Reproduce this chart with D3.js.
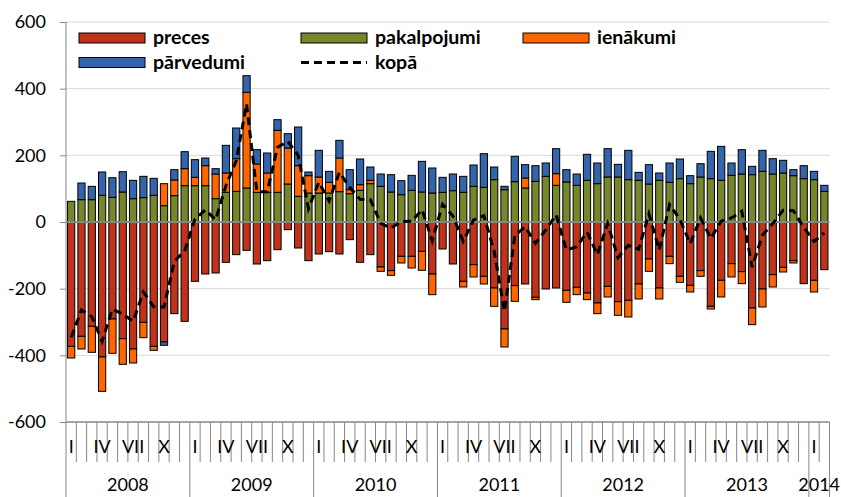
<!DOCTYPE html>
<html>
<head>
<meta charset="utf-8">
<script src="https://cdn.jsdelivr.net/npm/d3@7"></script>
<style>
  body { margin: 0; background: #fff; }
  svg { display: block; font-family: Lato, "Open Sans", sans-serif; }
</style>
</head>
<body>
<script>
// maksājumu bilances tekošais konts pa mēnešiem (2008 I - 2014 II)
const years = [2008, 2009, 2010, 2011, 2012, 2013, 2014]
const monthNames = ['I', 'II', 'III', 'IV', 'V', 'VI', 'VII', 'VIII', 'IX', 'X', 'XI', 'XII']
const shownMonths = ['I', 'IV', 'VII', 'X']
const yTicks = [-600, -400, -200, 0, 200, 400, 600]

const preces = [
  -373, -343, -313, -405, -291, -350, -381, -301, -373, -360, -275, -298,
  -178, -156, -153, -121, -98, -85, -126, -116, -83, -23, -78, -116,
  -96, -89, -96, -53, -121, -98, -135, -146, -103, -103, -88, -156,
  -81, -126, -178, -128, -163, -198, -321, -191, -186, -226, -201, -198,
  -205, -196, -213, -243, -193, -239, -235, -186, -111, -198, -103, -163,
  -190, -146, -253, -175, -125, -149, -258, -201, -158, -136, -116, -185,
  -175, -143
]
const pakalpojumi = [
  62, 67, 67, 80, 74, 90, 70, 73, 80, 49, 79, 109,
  109, 109, 70, 89, 92, 102, 89, 89, 89, 114, 77, 87,
  87, 87, 91, 85, 95, 115, 107, 90, 82, 95, 90, 87,
  89, 94, 89, 107, 104, 127, 97, 121, 102, 122, 137, 110,
  120, 110, 125, 115, 135, 135, 127, 125, 114, 125, 119, 130,
  115, 135, 130, 125, 140, 144, 142, 152, 144, 147, 139, 130,
  127, 92
]
const ienakumi = [
  -35, -38, -78, -103, -103, -77, -42, -46, -12, 66, 47, 51,
  25, 60, 74, 58, 98, 287, 85, 58, 186, 108, 92, 52,
  48, 32, 101, 12, 17, 10, -13, -14, -20, -35, -57, -62,
  0, 0, -17, -37, -23, -55, -54, -47, 30, -7, 0, 35,
  -36, -22, -20, -32, -32, -41, -50, -45, -37, -33, -22, -18,
  -20, -17, -8, -50, -40, -36, -50, -54, -37, -14, -7, 0,
  -35, 0
]
const parvedumi = [
  0, 50, 40, 70, 59, 61, 55, 64, 51, -10, 31, 51,
  53, 23, 16, 83, 92, 50, 43, 60, 32, 43, 116, 11,
  80, 33, 53, 60, 77, 40, 37, 52, 42, 45, 92, 75,
  45, 50, 48, 64, 101, 38, 10, 76, 40, 47, 40, 75,
  37, 34, 78, 62, 85, 38, 88, 24, 58, 22, 58, 59,
  24, 40, 82, 102, 37, 73, 25, 63, 46, 38, 18, 39,
  25, 18
]
const kopa = [
  -346, -264, -284, -358, -261, -276, -298, -210, -254, -255, -118, -87,
  9, 36, 7, 109, 184, 354, 91, 91, 224, 242, 200, 40,
  119, 63, 149, 104, 68, 67, -4, -18, 1, 2, 37, -56,
  53, 18, -58, 6, 19, -88, -268, -41, -14, -64, -24, 22,
  -84, -74, -30, -98, -5, -107, -70, -82, 24, -84, 52, 8,
  -65, 12, -49, 2, 12, 32, -135, -40, -5, 35, 34, -16,
  -58, -33
]

const keys = ['preces', 'pakalpojumi', 'ienakumi', 'parvedumi']
const labels = { preces: 'preces', pakalpojumi: 'pakalpojumi', ienakumi: 'ienākumi', parvedumi: 'pārvedumi' }
const colors = { preces: '#c0321a', pakalpojumi: '#76862b', ienakumi: '#ff6600', parvedumi: '#3464ac' }

// tabula stack funkcijai
let rows = preces.map(function (d, i) {
  return {
    i: i,
    year: years[Math.floor(i / 12)],
    month: monthNames[i % 12],
    preces: d,
    pakalpojumi: pakalpojumi[i],
    ienakumi: ienakumi[i],
    parvedumi: parvedumi[i],
    kopa: kopa[i]
  }
})

let width = 841
let height = 497
let plotLeft = 66, plotRight = 829.5, plotTop = 22, plotBottom = 422

let svg = d3.select('body').append('svg')
  .attr('width', width)
  .attr('height', height)

let x = d3.scaleBand()
  .domain(rows.map(d => d.i))
  .range([plotLeft, plotRight])
  .paddingInner(0.3)
  .paddingOuter(0.15)

let y = d3.scaleLinear()
  .domain([-600, 600])
  .range([plotBottom, plotTop])

// režģis
svg.append('g')
  .selectAll('line')
  .data(yTicks.filter(d => d !== 0 && d !== -600))
  .enter().append('line')
  .attr('x1', plotLeft).attr('x2', plotRight)
  .attr('y1', d => y(d)).attr('y2', d => y(d))
  .attr('stroke', '#d9d9d9')
  .attr('stroke-width', 1)

// y ass
let yAxis = svg.append('g')
  .attr('transform', 'translate(' + plotLeft + ',0)')
  .call(d3.axisLeft(y).tickValues(yTicks).tickSize(6).tickPadding(14).tickFormat(d => String(d)))
yAxis.selectAll('path, line').attr('stroke', '#868686')
yAxis.select('.domain').attr('d', 'M0,' + plotTop + 'V' + plotBottom)
yAxis.selectAll('text').attr('font-size', 18).attr('fill', '#000').attr('font-family', 'Lato')

// stabiņi
let series = d3.stack().keys(keys).offset(d3.stackOffsetDiverging)(rows)
svg.append('g')
  .selectAll('g')
  .data(series)
  .enter().append('g')
  .attr('fill', d => colors[d.key])
  .selectAll('rect')
  .data(d => d.filter(s => s[1] !== s[0]))
  .enter().append('rect')
  .attr('x', d => x(d.data.i))
  .attr('width', x.bandwidth())
  .attr('y', d => y(Math.max(d[0], d[1])))
  .attr('height', d => Math.abs(y(d[0]) - y(d[1])))
  .attr('stroke', '#000')
  .attr('stroke-width', 1)

// nulles līnija
svg.append('line')
  .attr('x1', plotLeft).attr('x2', plotRight)
  .attr('y1', y(0)).attr('y2', y(0))
  .attr('stroke', '#868686')
  .attr('stroke-width', 2)

// kopā
let line = d3.line()
  .x(d => x(d.i) + x.bandwidth() / 2)
  .y(d => y(d.kopa))
svg.append('path')
  .datum(rows)
  .attr('d', line)
  .attr('fill', 'none')
  .attr('stroke', '#000')
  .attr('stroke-width', 3)
  .attr('stroke-dasharray', '8,5')

// x ass apakšā (-600)
let step = x.step()
let edge = i => plotLeft + i * step
svg.append('line')
  .attr('x1', plotLeft).attr('x2', plotRight)
  .attr('y1', plotBottom).attr('y2', plotBottom)
  .attr('stroke', '#868686')
  .attr('stroke-width', 1.5)

let bounds = d3.range(rows.length + 1)
svg.append('g')
  .selectAll('line')
  .data(bounds)
  .enter().append('line')
  .attr('x1', d => edge(d)).attr('x2', d => edge(d))
  .attr('y1', plotBottom)
  .attr('y2', d => (d % 12 === 0 || d === rows.length) ? height : 462)
  .attr('stroke', '#868686')
  .attr('stroke-width', 1)

svg.append('g')
  .selectAll('text')
  .data(rows.filter(d => shownMonths.indexOf(d.month) >= 0))
  .enter().append('text')
  .attr('x', d => x(d.i) + x.bandwidth() / 2)
  .attr('y', 453)
  .attr('text-anchor', 'middle')
  .attr('font-size', 18)
  .text(d => d.month)

svg.append('g')
  .selectAll('text')
  .data(years)
  .enter().append('text')
  .attr('x', function (d, k) {
    let n = rows.filter(r => r.year === d).length
    return edge(k * 12) + n * step / 2
  })
  .attr('y', 491)
  .attr('text-anchor', 'middle')
  .attr('font-size', 18)
  .text(d => d)

// leģenda
let legendItems = [
  { key: 'preces', x: 79, y: 38 },
  { key: 'pakalpojumi', x: 301, y: 38 },
  { key: 'ienakumi', x: 523, y: 38 },
  { key: 'parvedumi', x: 79, y: 62.5 },
  { key: 'kopa', x: 301, y: 62.5 }
]
let legend = svg.append('g')
  .selectAll('g')
  .data(legendItems)
  .enter().append('g')
  .attr('transform', d => 'translate(' + d.x + ',' + d.y + ')')
legend.filter(d => d.key !== 'kopa').append('rect')
  .attr('x', 0).attr('y', -5)
  .attr('width', 66).attr('height', 10)
  .attr('fill', d => colors[d.key])
  .attr('stroke', '#000')
  .attr('stroke-width', 1)
legend.filter(d => d.key === 'kopa').append('line')
  .attr('x1', 0).attr('x2', 66)
  .attr('y1', 0).attr('y2', 0)
  .attr('stroke', '#000')
  .attr('stroke-width', 3)
  .attr('stroke-dasharray', '8,5')
legend.append('text')
  .attr('x', 74)
  .attr('dy', '0.33em')
  .attr('font-size', 19.5)
  .attr('font-weight', 'bold')
  .text(d => d.key === 'kopa' ? 'kopā' : labels[d.key])
</script>
</body>
</html>
